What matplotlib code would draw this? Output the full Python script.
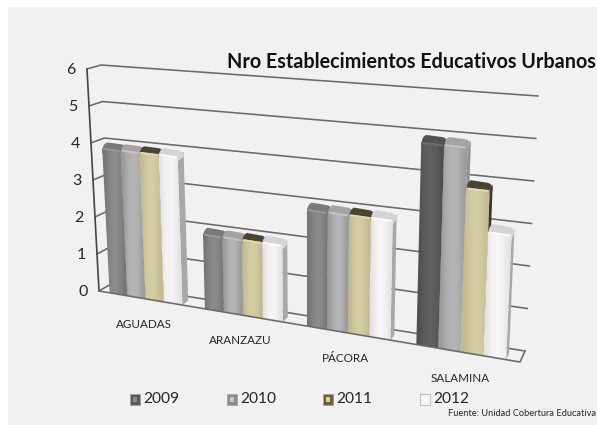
"""Nro Establecimientos Educativos Urbanos - fake 3D clustered columns."""

import matplotlib
matplotlib.use("Agg")
import matplotlib.pyplot as plt
import numpy as np
from matplotlib.colors import to_rgb
from matplotlib.patches import PathPatch, Polygon, Rectangle
from matplotlib.path import Path

plt.rcParams["font.family"] = ["Lato", "DejaVu Sans"]

# ---------------------------------------------------------------------------
# Data
# ---------------------------------------------------------------------------
MUNICIPIOS = ["AGUADAS", "ARANZAZU", "PÁCORA", "SALAMINA"]
YEARS = ["2009", "2010", "2011", "2012"]
V2009 = [4, 2, 3, 5]
V2010 = [4, 2, 3, 5]
V2011 = [4, 2, 3, 4]
V2012 = [4, 2, 3, 3]
SERIES = [V2009, V2010, V2011, V2012]
Y_TICKS = [0, 1, 2, 3, 4, 5, 6]

# ---------------------------------------------------------------------------
# Styles
# ---------------------------------------------------------------------------
BG = "#f1f1f1"
GRID = "#6a6a6a"
TEXT = "#262626"
COLORS = [
    {"edge": "#767676", "mid": "#8c8c8c", "side": "#6e6e6e", "cap": "#7a7a7a", "hi": "#9a9a9a"},
    {"edge": "#9c9c9c", "mid": "#b6b6b6", "side": "#909090", "cap": "#a4a4a4", "hi": "#c4c4c4"},
    {"edge": "#c4bb90", "mid": "#d6cea4", "side": "#3a3626", "cap": "#4a4430", "hi": "#e0d8b0"},
    {"edge": "#e4e4e4", "mid": "#f6f6f6", "side": "#a8a8a8", "cap": "#d4d4d4", "hi": "#fbfbfb"},
]
DARK_FIRST = {"edge": "#505050", "mid": "#606060", "side": "#444444", "cap": "#525252", "hi": "#6c6c6c"}

W, H = 597, 425
DPI = 100

# corners of the front plane, in pixels
FL0 = np.array([99.0, 291.0])
FL6 = np.array([87.0, 69.0])
FR0 = np.array([520.0, 362.0])
FR6 = np.array([532.0, 104.0])
# corners of the back wall
BL0 = np.array([111.0, 284.0])
BL6 = np.array([101.0, 65.0])
BR0 = np.array([525.0, 351.0])
BR6 = np.array([538.0, 96.0])
PERSP = 1.15
BAR_DEPTH = 0.55
BAR_SCALE = 0.975


def _warp(s):
    return s / (s + PERSP * (1 - s))


def front(s, v):
    t = _warp(s)
    left = FL0 + (FL6 - FL0) * v / 6
    right = FR0 + (FR6 - FR0) * v / 6
    return left + (right - left) * t


def depth_vec(s):
    t = _warp(s)
    return (BL0 - FL0) + ((BR0 - FR0) - (BL0 - FL0)) * t


fig = plt.figure(figsize=(W / DPI, H / DPI), dpi=DPI)
fig.patch.set_facecolor("white")
ax = fig.add_axes([0, 0, 1, 1])
ax.set_xlim(0, W)
ax.set_ylim(H, 0)
ax.set_axis_off()

# grey slide on the white screenshot
ax.add_patch(Rectangle((8, 7), W - 8, H - 7, facecolor=BG, edgecolor="none", zorder=0))

# --- walls ---
for v in Y_TICKS:
    f = FL0 + (FL6 - FL0) * v / 6
    bl = BL0 + (BL6 - BL0) * v / 6
    br = BR0 + (BR6 - BR0) * v / 6
    ax.plot([f[0], bl[0], br[0]], [f[1], bl[1], br[1]], color=GRID, lw=1.15, zorder=1)
    ax.text(f[0] - 16, f[1] + 1, str(v), color=TEXT, fontsize=11.5,
            ha="center", va="center")
ax.plot([FL0[0], FL6[0]], [FL0[1], FL6[1]], color="#444444", lw=1.2, zorder=2)
ax.plot([FL0[0], FR0[0], BR0[0]], [FL0[1], FR0[1], BR0[1]], color=GRID, lw=1.15, zorder=8)


def draw_bar(s0, s1, value, col):
    """One column: side face, gradient front and rounded cap."""
    value = value * BAR_SCALE
    d = depth_vec(s1) * BAR_DEPTH
    p00, p10 = front(s0, 0), front(s1, 0)
    p01, p11 = front(s0, value), front(s1, value)

    ax.add_patch(Polygon([p10, p10 + d, p11 + d, p11], closed=True,
                         facecolor=col["side"], edgecolor="none", zorder=4))

    # cap: rounded shoulders running from the front edge to the back edge
    bl, br = p01 + d, p11 + d
    r = 5.0
    verts = [p01 + [0, 5.0],
             [p01[0], bl[1]], [p01[0] + r, bl[1] - 1.5],
             [br[0] - r, br[1] - 1.5],
             [br[0], br[1]], [br[0], br[1] + r],
             p11 + [0, 5.0],
             p01 + [0, 5.0]]
    codes = [Path.MOVETO, Path.CURVE3, Path.CURVE3, Path.LINETO,
             Path.CURVE3, Path.CURVE3, Path.LINETO, Path.CLOSEPOLY]
    ax.add_patch(PathPatch(Path(verts, codes), facecolor=col["cap"],
                           edgecolor="none", zorder=4))

    # front face with a soft horizontal gradient, clipped to the slanted quad
    x0 = min(p00[0], p01[0])
    x1 = max(p10[0], p11[0])
    y0 = min(p01[1], p11[1])
    y1 = max(p00[1], p10[1])
    grad = np.array([0.0, 0.7, 1.0, 0.7, 0.0]).reshape(1, -1)
    c_edge = np.array(to_rgb(col["edge"]))
    c_mid = np.array(to_rgb(col["mid"]))
    img = c_edge + (c_mid - c_edge) * grad[..., None]
    im = ax.imshow(img, extent=(x0, x1, y1, y0), aspect="auto",
                   interpolation="bilinear", zorder=5)
    clip = Polygon([p00, p10, p11, p01], closed=True, transform=ax.transData,
                   facecolor="none", edgecolor="none")
    ax.add_patch(clip)
    im.set_clip_path(clip)
    ax.plot([p01[0] + 2, p11[0] - 2], [p01[1] + 1, p11[1] + 1],
            color=col["hi"], lw=1.4, zorder=6, solid_capstyle="round")


# --- bars, left to right ---
GAP = 0.115
for i, name in enumerate(MUNICIPIOS):
    w = (1 - 2 * GAP) / len(YEARS)
    for j, vals in enumerate(SERIES):
        s0 = (i + GAP + j * w) / len(MUNICIPIOS)
        s1 = (i + GAP + (j + 1) * w) / len(MUNICIPIOS)
        col = COLORS[j]
        if j == 0 and i == len(MUNICIPIOS) - 1:
            col = DARK_FIRST
        draw_bar(s0, s1, vals[i], col)
ax.set_xlim(0, W)
ax.set_ylim(H, 0)

# --- category labels ---
LABEL_X = [144, 240, 345, 460]
LABEL_Y = [325, 341, 358, 378]
for name, x, y in zip(MUNICIPIOS, LABEL_X, LABEL_Y):
    ax.text(x, y, name, color=TEXT, fontsize=8.4, ha="center", va="center")

# --- legend ---
LEG_X = [130, 227, 323, 420]
LEG_COL = ["#5a5a5a", "#8c8c8c", "#6a6238", "#f4f4f4"]
LEG_IN = ["#8a8a8a", "#c8c8c8", "#d8d0a0", "#ffffff"]
for year, x, c, c2 in zip(YEARS, LEG_X, LEG_COL, LEG_IN):
    ax.add_patch(Rectangle((x, 394), 10, 11, facecolor=c,
                           edgecolor="#9a9a9a", lw=0.4, zorder=3))
    ax.add_patch(Rectangle((x + 3, 397), 4, 5, facecolor=c2, edgecolor="none", zorder=4))
    ax.text(x + 13, 399, year, color=TEXT, fontsize=11.2, ha="left", va="center")

# --- title and source ---
ax.text(596, 62, "Nro Establecimientos Educativos Urbanos", color="#111111",
        fontsize=14.2, fontweight="bold", ha="right", va="center")
ax.text(596, 413, "Fuente: Unidad Cobertura Educativa", color=TEXT,
        fontsize=6.7, ha="right", va="center")

fig.savefig("out.png", dpi=DPI, facecolor=fig.get_facecolor())
plt.close(fig)
